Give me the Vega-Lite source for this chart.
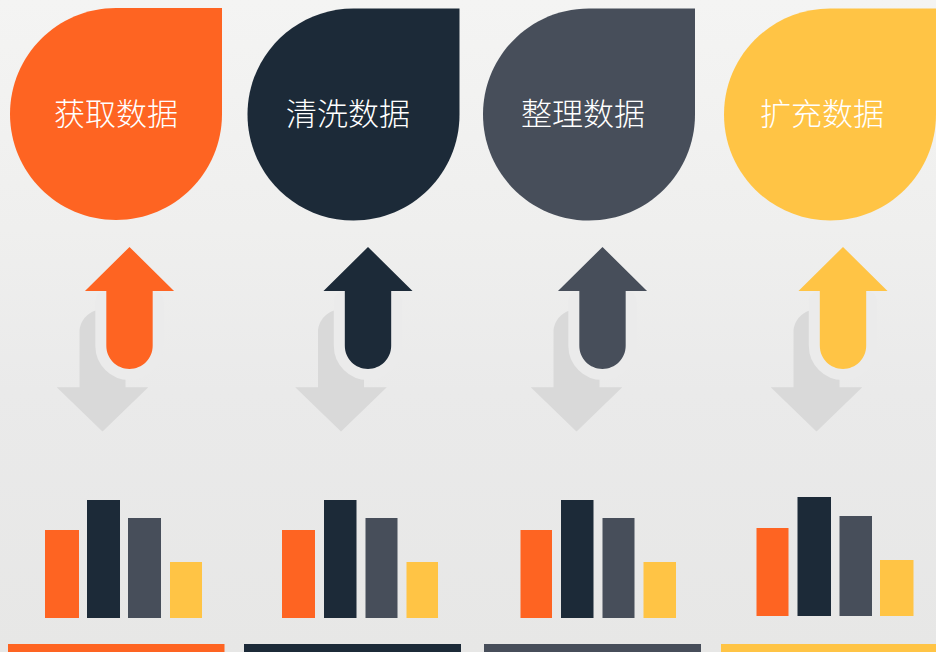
{
  "$schema": "https://vega.github.io/schema/vega-lite/v6.json",
  "width": 936,
  "height": 652,
  "padding": 0,
  "autosize": {"type": "fit", "contains": "padding"},
  "background": "#ECECEC",
  "config": {"view": {"stroke": null}},
  "datasets": {
    "bg": [{"x": 0, "x2": 936, "y": 0, "y2": 652}],
    "steps": [
      {"step": "获取数据", "k": "a", "cx": 116, "cy": 114, "tx": 116, "ty": 116, "ux": 129.5, "uy": 308, "dx": 102.5, "dy": 370.5},
      {"step": "清洗数据", "k": "b", "cx": 353.5, "cy": 114.5, "tx": 348, "ty": 116, "ux": 368, "uy": 308, "dx": 341, "dy": 370.5},
      {"step": "整理数据", "k": "c", "cx": 589, "cy": 114.5, "tx": 583, "ty": 116, "ux": 602.5, "uy": 308, "dx": 576.5, "dy": 370.5},
      {"step": "扩充数据", "k": "d", "cx": 830, "cy": 114.5, "tx": 822, "ty": 116, "ux": 843, "uy": 308, "dx": 816.5, "dy": 370.5}
    ],
    "bars": [
      {"col": 1, "k": "a", "x": 45, "x2": 79, "top": 530, "bottom": 618},
      {"col": 1, "k": "b", "x": 87, "x2": 120, "top": 500, "bottom": 618},
      {"col": 1, "k": "c", "x": 128, "x2": 161, "top": 518, "bottom": 618},
      {"col": 1, "k": "d", "x": 170, "x2": 202, "top": 562, "bottom": 618},
      {"col": 2, "k": "a", "x": 282, "x2": 315, "top": 530, "bottom": 618},
      {"col": 2, "k": "b", "x": 324, "x2": 356.5, "top": 500, "bottom": 618},
      {"col": 2, "k": "c", "x": 365.5, "x2": 397.5, "top": 518, "bottom": 618},
      {"col": 2, "k": "d", "x": 406.5, "x2": 438, "top": 562, "bottom": 618},
      {"col": 3, "k": "a", "x": 520.5, "x2": 552, "top": 530, "bottom": 618},
      {"col": 3, "k": "b", "x": 561, "x2": 593.5, "top": 500, "bottom": 618},
      {"col": 3, "k": "c", "x": 602.5, "x2": 634.5, "top": 518, "bottom": 618},
      {"col": 3, "k": "d", "x": 643.5, "x2": 676, "top": 562, "bottom": 618},
      {"col": 4, "k": "a", "x": 756.5, "x2": 788.5, "top": 528, "bottom": 616},
      {"col": 4, "k": "b", "x": 797.5, "x2": 831, "top": 497, "bottom": 616},
      {"col": 4, "k": "c", "x": 839.5, "x2": 872, "top": 516, "bottom": 616},
      {"col": 4, "k": "d", "x": 880, "x2": 913.5, "top": 560, "bottom": 616}
    ],
    "strips": [
      {"k": "a", "x": 8, "x2": 224.5, "y": 644, "y2": 652},
      {"k": "b", "x": 244, "x2": 461, "y": 644, "y2": 652},
      {"k": "c", "x": 484, "x2": 701, "y": 644, "y2": 652},
      {"k": "d", "x": 721, "x2": 936, "y": 644, "y2": 652}
    ]
  },
  "layer": [
    {
      "data": {"name": "bg"},
      "mark": {
        "type": "rect",
        "color": {
          "gradient": "linear", "x1": 0, "y1": 0, "x2": 0, "y2": 1,
          "stops": [
            {"offset": 0, "color": "#F4F4F3"},
            {"offset": 0.35, "color": "#EFEFEE"},
            {"offset": 0.6, "color": "#EAEAEA"},
            {"offset": 1, "color": "#E7E7E6"}
          ]
        }
      },
      "encoding": {
        "x": {"field": "x", "type": "quantitative", "axis": null, "scale": {"domain": [0, 936], "nice": false, "zero": false}},
        "x2": {"field": "x2"},
        "y": {"field": "y", "type": "quantitative", "axis": null, "scale": {"domain": [0, 652], "nice": false, "zero": false, "reverse": true}},
        "y2": {"field": "y2"}
      }
    },
    {
      "data": {"name": "steps"},
      "mark": {
        "type": "point", "filled": true, "opacity": 1, "strokeWidth": 0, "size": 44944,
        "shape": "M0,-1L1,-1L1,0A1,1,0,0,1,0,1A1,1,0,0,1,-1,0A1,1,0,0,1,0,-1Z"
      },
      "encoding": {
        "x": {"field": "cx", "type": "quantitative", "axis": null},
        "y": {"field": "cy", "type": "quantitative", "axis": null},
        "color": {"field": "k", "type": "nominal", "legend": null, "scale": {"domain": ["a", "b", "c", "d"], "range": ["#FE6422", "#1C2A38", "#474E5A", "#FFC445"]}}
      }
    },
    {
      "data": {"name": "steps"},
      "mark": {"type": "text", "color": "#FFFFFF", "fontSize": 31, "font": "Noto Sans CJK SC", "fontWeight": 300, "align": "center", "baseline": "middle"},
      "encoding": {
        "x": {"field": "tx", "type": "quantitative", "axis": null},
        "y": {"field": "ty", "type": "quantitative", "axis": null},
        "text": {"field": "step"}
      }
    },
    {
      "data": {"name": "steps"},
      "mark": {
        "type": "point", "filled": true, "opacity": 1, "strokeWidth": 0, "size": 14884, "color": "#D9D9D9",
        "shape": "M0,1L-0.75,0.275L-0.377,0.275L-0.377,-0.623A0.377,0.377,0,0,1,0.377,-0.623L0.377,0.275L0.75,0.275Z"
      },
      "encoding": {
        "x": {"field": "dx", "type": "quantitative", "axis": null},
        "y": {"field": "dy", "type": "quantitative", "axis": null}
      }
    },
    {
      "data": {"name": "steps"},
      "mark": {
        "type": "point", "filled": true, "opacity": 1, "size": 14884, "fill": "#EBEBEB", "stroke": "#EBEBEB", "strokeWidth": 22, "strokeJoin": "round",
        "shape": "M0.38,-0.1L0.38,0.62A0.38,0.38,0,0,1,-0.38,0.62L-0.38,-0.1Z"
      },
      "encoding": {
        "x": {"field": "ux", "type": "quantitative", "axis": null},
        "y": {"field": "uy", "type": "quantitative", "axis": null}
      }
    },
    {
      "data": {"name": "steps"},
      "mark": {
        "type": "point", "filled": true, "opacity": 1, "strokeWidth": 0, "size": 14884,
        "shape": "M0,-1L0.73,-0.28L0.38,-0.28L0.38,0.62A0.38,0.38,0,0,1,-0.38,0.62L-0.38,-0.28L-0.73,-0.28Z"
      },
      "encoding": {
        "x": {"field": "ux", "type": "quantitative", "axis": null},
        "y": {"field": "uy", "type": "quantitative", "axis": null},
        "color": {"field": "k", "type": "nominal", "legend": null}
      }
    },
    {
      "data": {"name": "bars"},
      "mark": {"type": "rect"},
      "encoding": {
        "x": {"field": "x", "type": "quantitative", "axis": null},
        "x2": {"field": "x2"},
        "y": {"field": "top", "type": "quantitative", "axis": null},
        "y2": {"field": "bottom"},
        "color": {"field": "k", "type": "nominal", "legend": null}
      }
    },
    {
      "data": {"name": "strips"},
      "mark": {"type": "rect"},
      "encoding": {
        "x": {"field": "x", "type": "quantitative", "axis": null},
        "x2": {"field": "x2"},
        "y": {"field": "y", "type": "quantitative", "axis": null},
        "y2": {"field": "y2"},
        "color": {"field": "k", "type": "nominal", "legend": null}
      }
    }
  ]
}
